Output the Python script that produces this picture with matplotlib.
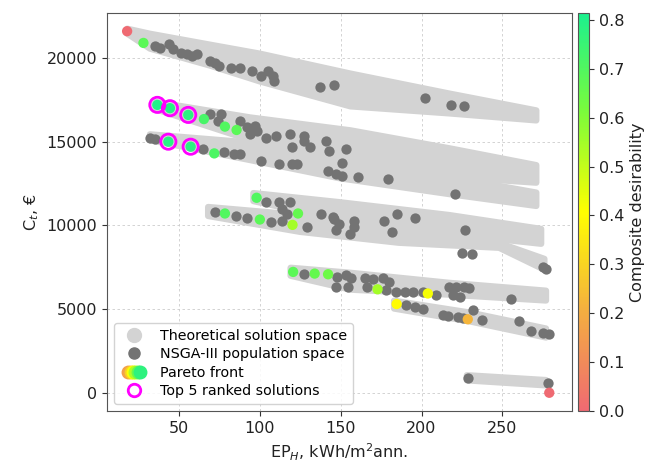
import numpy as np
import matplotlib.pyplot as plt
from matplotlib.colors import LinearSegmentedColormap
from matplotlib.lines import Line2D
from matplotlib.legend_handler import HandlerTuple

# theoretical solution space, outline of each band: x, upper C_t, lower C_t
band_a_x = [18, 32, 69, 100, 156, 217, 271]
band_a_hi = [21750, 21450, 20800, 20260, 19070, 17880, 16870]
band_a_lo = [21450, 20560, 19550, 18600, 17110, 16690, 16270]

band_b_x = [34, 94, 156, 217, 271]
band_b_hi = [17400, 16450, 15680, 14610, 13600]
band_b_lo = [16990, 15100, 13700, 12900, 12550]

band_c_x = [32, 94, 149, 217, 271]
band_c_hi = [15440, 14950, 14300, 12900, 11960]
band_c_lo = [15090, 13900, 12820, 11870, 11160]

band_d_x = [96, 149, 217, 274]
band_d_hi = [11930, 11390, 10620, 9790]
band_d_lo = [11450, 10330, 9490, 8900]

band_e_x = [68, 125, 186, 248, 276]
band_e_hi = [11100, 10620, 10030, 8950, 8000]
band_e_lo = [10560, 9610, 8960, 8660, 7350]

band_f_x = [119, 156, 217, 277]
band_f_hi = [7470, 7170, 6570, 6100]
band_f_lo = [6990, 6160, 5860, 5510]

band_g_x = [183, 230, 277]
band_g_hi = [5500, 4790, 3840]
band_g_lo = [5030, 4260, 3300]

band_h_x = [228, 277]
band_h_hi = [1050, 760]
band_h_lo = [740, 440]

# NSGA-III population
nsga_x = [35, 38, 44, 46, 51, 55, 58, 61, 69, 72, 75, 82, 88, 95, 101, 105, 108, 109, 137, 146, 202, 218, 226,
          69, 76, 74, 88, 92, 97, 94, 98, 104, 110, 118.5, 127, 127, 131, 120, 141, 143, 153, 151, 142, 147, 151, 161, 179, 221,
          32, 35, 65, 78, 84, 88, 101, 112, 120, 123,
          104, 112, 118.5, 114, 116.5, 72, 85, 92, 107, 114, 129, 138, 145, 146, 149, 147, 156, 158, 158, 177, 185, 196, 182,
          227, 225, 231, 275, 277,
          127, 148, 153.5, 156.6, 147, 154.5, 165, 170, 176, 179.6, 166, 178, 184.4, 189.5, 194.6, 200.8, 209, 217, 221.4,
          226.5, 229.6, 219.3, 223.5, 255.4,
          190.6, 195.7, 200.8, 213.1, 216.2, 222.4, 225.5, 232.1, 237.5, 260.1, 267.7, 274.9, 279,
          229, 278]
nsga_y = [20710, 20600, 20810, 20510, 20310, 20210, 20110, 20250, 19850, 19710, 19520, 19420, 19420, 19220, 18920, 19220,
          18920, 18620, 18270, 18390, 17630, 17200, 17120,
          16640, 16640, 16240, 16240, 15850, 15950, 15450, 15650, 15250, 15350, 15450, 15350, 15050, 14660, 14660, 15050,
          14460, 14560, 13750, 13270, 13070, 12970, 12870, 12780, 11900,
          15250, 15160, 14560, 14360, 14260, 14260, 13820, 13670, 13690, 13670,
          11380, 11380, 11380, 10990, 10690, 10790, 10590, 10470, 10230, 10290, 9880, 10650, 10490, 10400, 10100, 9700, 9500,
          10290, 9900, 10250, 10650, 10450, 9600, 9740, 8350, 8310, 7520, 7420,
          7120, 6920, 7020, 6830, 6330, 6330, 6830, 6780, 6840, 6620, 6330, 6130, 6030, 6030, 6030, 6030, 5860, 6330, 6340,
          6330, 6230, 5830, 5730, 5580,
          5240, 5140, 4980, 4640, 4580, 4540, 4450, 4940, 4340, 4300, 3690, 3550, 3490,
          880, 610]

# Pareto front with composite desirability
pareto_x = [17.9, 28.0, 36.6, 44.4, 55.7, 65.4, 78.4, 85.6, 43.4, 57.2, 71.8, 98.0, 123.6, 78.4, 100.0, 120.2,
            120.6, 133.9, 142.2, 172.8, 203.9, 184.6, 228.6, 279.0]
pareto_y = [21600, 20900, 17200, 17000, 16600, 16350, 15900, 15700, 15000, 14700, 14300, 11650, 10710, 10710, 10350,
            10030, 7220, 7120, 7080, 6180, 5930, 5300, 4390, 0]
pareto_d = [0.0, 0.68, 0.80, 0.79, 0.78, 0.72, 0.70, 0.68, 0.79, 0.78, 0.71, 0.70, 0.66, 0.70, 0.68, 0.55,
            0.68, 0.66, 0.64, 0.55, 0.42, 0.40, 0.22, 0.0]
top5_idx = [2, 3, 4, 8, 9]

cmap = LinearSegmentedColormap.from_list(
    'desir', ['#ef6a72', '#f4ae40', '#ffff00', '#7cfc3a', '#1cf08e'])
light_gray, dark_gray = '#d3d3d3', '#737373'

fig = plt.figure(figsize=(6.65, 4.69), dpi=100)
ax = fig.add_axes([0.161, 0.124, 0.699, 0.848])
cax = fig.add_axes([0.869, 0.124, 0.0165, 0.848])

bands = [(band_a_x, band_a_hi, band_a_lo), (band_b_x, band_b_hi, band_b_lo), (band_c_x, band_c_hi, band_c_lo),
         (band_d_x, band_d_hi, band_d_lo), (band_e_x, band_e_hi, band_e_lo), (band_f_x, band_f_hi, band_f_lo),
         (band_g_x, band_g_hi, band_g_lo), (band_h_x, band_h_hi, band_h_lo)]
for bx, hi, lo in bands:
    # thick round-joined edge gives the rounded look of the dense marker cloud
    ax.fill(list(bx) + list(bx[::-1]), list(hi) + list(lo[::-1]), color=light_gray,
            lw=4.5, joinstyle='round', zorder=1)

ax.scatter(nsga_x, nsga_y, s=55, color=dark_gray, lw=0, zorder=2)
sc = ax.scatter(pareto_x, pareto_y, c=pareto_d, cmap=cmap, vmin=0, vmax=0.814, s=55, lw=0, zorder=3)
ax.scatter(np.array(pareto_x)[top5_idx], np.array(pareto_y)[top5_idx], s=120, facecolors='none',
           edgecolors='#ff00ff', lw=2, zorder=4)

ax.set_xlim(5.5, 293)
ax.set_ylim(-1080, 22680)
ax.set_xticks([50, 100, 150, 200, 250])
ax.set_yticks([0, 5000, 10000, 15000, 20000])
ax.grid(True, ls=(0, (3, 3)), lw=0.6, color='#cccccc')
ax.set_axisbelow(True)
ax.tick_params(labelsize=11.5, colors='#333333', labelcolor='#222222')
for s in ax.spines.values():
    s.set_color('#555555')
ax.set_xlabel('EP$_H$, kWh/m$^2$ann.', fontsize=11.5, color='#222222')
ax.set_ylabel('C$_t$, €', fontsize=11.5, color='#222222')

cb = fig.colorbar(sc, cax=cax, ticks=np.arange(0, 0.81, 0.1), format='%.1f')
cb.outline.set_edgecolor('#555555')
cax.tick_params(labelsize=11.5, colors='#333333', labelcolor='#222222')
cb.set_label('Composite desirability', fontsize=11.5, color='#222222')

pill = tuple(Line2D([], [], marker='o', ls='', color=cmap(v), ms=9) for v in (0.2, 0.35, 0.5, 0.65, 0.8, 0.95))
handles = [Line2D([], [], marker='o', ls='', color=light_gray, ms=10),
           Line2D([], [], marker='o', ls='', color=dark_gray, ms=8),
           pill,
           Line2D([], [], marker='o', ls='', mfc='none', mec='#ff00ff', mew=2, ms=9)]
labels = ['Theoretical solution space', 'NSGA-III population space', 'Pareto front', 'Top 5 ranked solutions']
ax.legend(handles, labels, loc='lower left', fontsize=10.3, framealpha=0.85, edgecolor='#cccccc',
          labelspacing=0.3, handler_map={tuple: HandlerTuple(ndivide=6, pad=-1.0)})

fig.savefig('out.png', dpi=100)
